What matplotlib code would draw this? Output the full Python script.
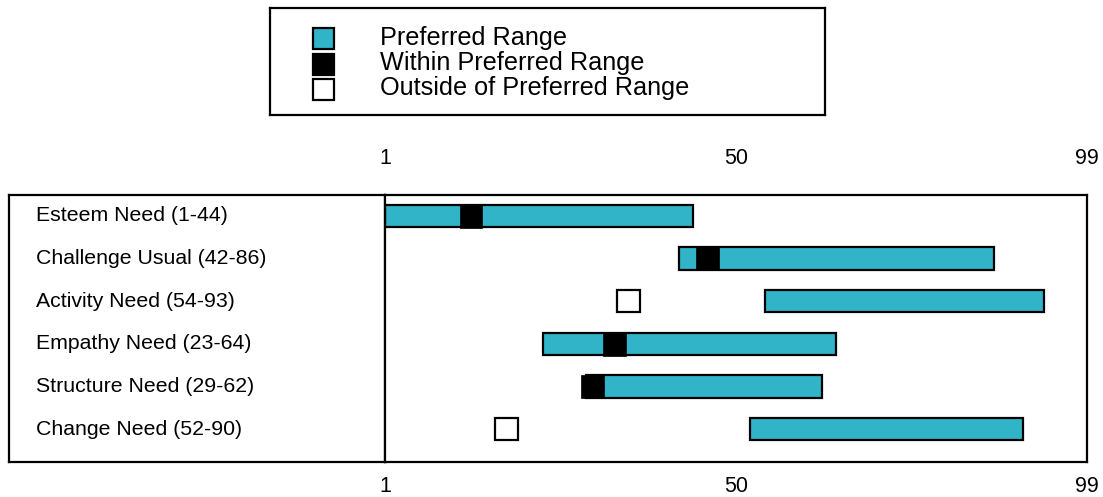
import numpy as np
import matplotlib.pyplot as plt
from matplotlib.patches import Rectangle

plt.rcParams['font.family'] = ['Liberation Sans', 'DejaVu Sans']

# data
labels = ['Esteem Need (1-44)', 'Challenge Usual (42-86)', 'Activity Need (54-93)',
          'Empathy Need (23-64)', 'Structure Need (29-62)', 'Change Need (52-90)']
range_lo = [1, 42, 54, 23, 29, 52]
range_hi = [44, 86, 93, 64, 62, 90]
scores = [13, 46, 35, 33, 30, 18]
ticks = [1, 50, 99]

cyan = '#31b4c8'
W, H = 1103, 497
fig = plt.figure(figsize=(W / 100, H / 100), dpi=100)

# label panel
axl = fig.add_axes([9 / W, (H - 462) / H, (385 - 9) / W, (462 - 195) / H])
axl.set_xlim(0, 1)
axl.set_ylim(5.77, -0.49)
axl.set_xticks([])
axl.set_yticks([])
for s in axl.spines.values():
    s.set_linewidth(1.6)
for i, lab in enumerate(labels):
    axl.text(27 / 376, i, lab, fontsize=15.3, va='center', ha='left')

# data panel
ax = fig.add_axes([385 / W, (H - 462) / H, (1087 - 385) / W, (462 - 195) / H])
ax.set_xlim(1, 99)
ax.set_ylim(5.77, -0.49)
for s in ax.spines.values():
    s.set_linewidth(1.6)
ax.set_yticks([])
ax.set_xticks(ticks)
ax.set_xticklabels([str(t) for t in ticks])
ax.tick_params(axis='x', length=0, labelsize=15.5, pad=10)
top = ax.secondary_xaxis('top')
top.set_xticks(ticks)
top.set_xticklabels([str(t) for t in ticks])
top.tick_params(axis='x', length=0, labelsize=15.5, pad=19)
top.spines['top'].set_visible(False)

y = np.arange(len(labels))
lo = np.array(range_lo)
hi = np.array(range_hi)
sc = np.array(scores)
bh = 0.52
sq = 3.15

ax.barh(y, hi - lo, left=lo, height=bh, color=cyan, edgecolor='black', linewidth=1.6, zorder=2)
inside = (sc >= lo) & (sc <= hi)
ax.barh(y[inside], sq, left=sc[inside] - sq / 2, height=bh + 0.04, color='black',
        edgecolor='black', linewidth=0.5, zorder=3)
ax.barh(y[~inside], sq, left=sc[~inside] - sq / 2, height=bh, color='white',
        edgecolor='black', linewidth=1.6, zorder=3)

# legend box
axg = fig.add_axes([270 / W, (H - 115) / H, (825 - 270) / W, (115 - 8) / H])
axg.set_xlim(270, 825)
axg.set_ylim(115, 8)
axg.set_xticks([])
axg.set_yticks([])
for s in axg.spines.values():
    s.set_linewidth(1.6)
leg_labels = ['Preferred Range', 'Within Preferred Range', 'Outside of Preferred Range']
leg_colors = [cyan, 'black', 'white']
for k, (lab, c) in enumerate(zip(leg_labels, leg_colors)):
    yc = 38.5 + 25.5 * k
    axg.add_patch(Rectangle((313, yc - 10.5), 21, 21, facecolor=c, edgecolor='black', linewidth=1.6))
    axg.text(380, yc - 1, lab, fontsize=18.2, va='center', ha='left')

fig.savefig('out.png', dpi=100)
